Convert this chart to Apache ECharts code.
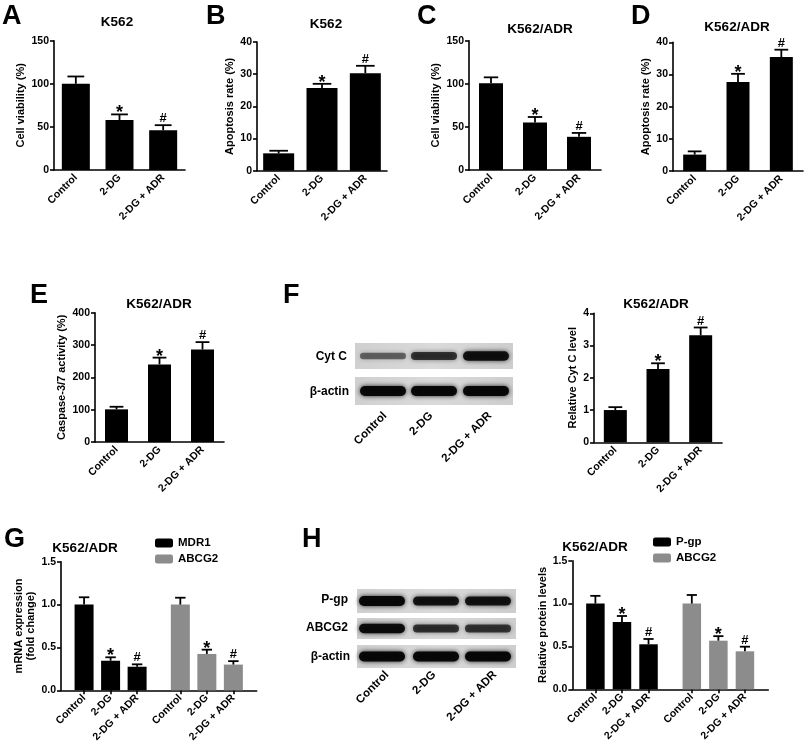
<!DOCTYPE html>
<html><head><meta charset="utf-8">
<script src="https://cdn.jsdelivr.net/npm/echarts@6/dist/echarts.min.js"></script>
<style>html,body{margin:0;padding:0;background:#fff}#c{width:805px;height:742px}</style>
</head><body><div id="c"></div>
<script>
// ---------------- DATA ----------------
const categories = ['Control', '2-DG', '2-DG + ADR'];
const marks = ['', '*', '#'];

// A: K562 cell viability (%)
const aTicks = [0, 50, 100, 150];
const aMean = [100, 58, 46];
const aErr = [8.5, 6.5, 6];
// B: K562 apoptosis rate (%)
const bTicks = [0, 10, 20, 30, 40];
const bMean = [5.4, 25.7, 30.3];
const bErr = [0.8, 1.3, 2.3];
// C: K562/ADR cell viability (%)
const cTicks = [0, 50, 100, 150];
const cMean = [100.5, 55, 38.5];
const cErr = [7, 6.5, 4.5];
// D: K562/ADR apoptosis rate (%)
const dTicks = [0, 10, 20, 30, 40];
const dMean = [5.1, 27.7, 35.4];
const dErr = [1.0, 2.5, 2.3];
// E: K562/ADR caspase-3/7 activity (%)
const eTicks = [0, 100, 200, 300, 400];
const eMean = [101, 240, 286];
const eErr = [8, 21, 23];
// F: relative Cyt C level
const fTicks = [0, 1, 2, 3, 4];
const fMean = [1.0, 2.27, 3.32];
const fErr = [0.09, 0.18, 0.24];
// G: mRNA expression (fold change)
const gTicks = [0, 0.5, 1.0, 1.5];
const gMdr1 = [1.0, 0.345, 0.275];
const gMdr1Err = [0.085, 0.04, 0.028];
const gAbcg2 = [1.0, 0.424, 0.30];
const gAbcg2Err = [0.08, 0.05, 0.04];
// H: relative protein levels
const hTicks = [0, 0.5, 1.0, 1.5];
const hPgp = [1.0, 0.785, 0.525];
const hPgpErr = [0.09, 0.07, 0.062];
const hAbcg2 = [1.0, 0.567, 0.443];
const hAbcg2Err = [0.1, 0.053, 0.054];

// Western blot band intensities (relative darkness per lane)
const fCytCBand = [0.5, 0.72, 0.9];
const fActinBand = [0.97, 0.97, 0.97];
const hPgpBand = [0.97, 0.88, 0.88];
const hAbcg2Band = [0.93, 0.72, 0.7];
const hActinBand = [0.97, 0.97, 0.97];

// ---------------- STYLE / LAYOUT ----------------
const FONT = '"Liberation Sans", Arial, Helvetica, sans-serif';
const BLACK = '#000000';
const GRAY = '#8c8c8c';
const AX = { onZero: false, lineStyle: { color: BLACK, width: 1.6 } };

const option = {
  animation: false,
  backgroundColor: '#ffffff',
  textStyle: { fontFamily: FONT },
  grid: [], xAxis: [], yAxis: [], series: [], legend: [], graphic: []
};

function yAxisCfg(gi, ticks, name, nameGap, dec) {
  return {
    gridIndex: gi, type: 'value',
    min: ticks[0], max: ticks[ticks.length - 1], interval: ticks[1] - ticks[0],
    name: name, nameLocation: 'middle', nameGap: nameGap,
    nameTextStyle: { fontSize: 11, fontWeight: 'bold', color: BLACK, fontFamily: FONT, align: 'center', lineHeight: 12.5 },
    axisLine: { show: true, onZero: false, lineStyle: AX.lineStyle },
    axisTick: { show: true, length: 4, lineStyle: AX.lineStyle },
    axisLabel: { fontSize: 10.5, fontWeight: 'bold', color: BLACK, fontFamily: FONT, margin: 5,
      formatter: v => Number(v).toFixed(dec) },
    splitLine: { show: false }
  };
}

function errSeries(gi, data, capW, markList) {
  return {
    type: 'custom', xAxisIndex: gi, yAxisIndex: gi, silent: true, z: 5,
    data: data,
    renderItem: function (params, api) {
      const x = api.value(0), m = api.value(1), e = api.value(2);
      const p0 = api.coord([x, m]);
      const p1 = api.coord([x, m + e]);
      const mk = markList[params.dataIndex];
      const children = [
        { type: 'line', shape: { x1: p0[0], y1: p0[1], x2: p1[0], y2: p1[1] }, style: { stroke: BLACK, lineWidth: 1.8 } },
        { type: 'line', shape: { x1: p1[0] - capW / 2, y1: p1[1], x2: p1[0] + capW / 2, y2: p1[1] }, style: { stroke: BLACK, lineWidth: 1.8 } }
      ];
      if (mk) {
        children.push({ type: 'text', x: p1[0], y: p1[1] + (mk === '*' ? 8 : 0),
          style: { text: mk, fill: BLACK, font: 'bold ' + (mk === '*' ? 18 : 13) + 'px ' + FONT, align: 'center', verticalAlign: 'bottom' } });
      }
      return { type: 'group', children: children };
    }
  };
}

function addSimple(box, ticks, yName, nameGap, means, errs, barW, dec) {
  const gi = option.grid.length;
  option.grid.push({ left: box[0], top: box[1], width: box[2], height: box[3], containLabel: false, outerBoundsMode: 'none' });
  option.xAxis.push({
    gridIndex: gi, type: 'category', data: categories,
    axisLine: AX, axisTick: { alignWithLabel: true, length: 4, lineStyle: AX.lineStyle },
    axisLabel: { rotate: 45, interval: 0, fontSize: 10.5, fontWeight: 'bold', color: BLACK, fontFamily: FONT, margin: 6 }
  });
  option.yAxis.push(yAxisCfg(gi, ticks, yName, nameGap, dec));
  option.series.push({ type: 'bar', xAxisIndex: gi, yAxisIndex: gi, data: means, barWidth: barW, silent: true,
    itemStyle: { color: BLACK } });
  option.series.push(errSeries(gi, means.map((m, i) => [i, m, errs[i]]), barW * 0.6, marks));
}

const GROUP_SHIFT = 3.63;
function addGrouped(box, ticks, yName, nameGap, groups, barW) {
  const gi = option.grid.length;
  option.grid.push({ left: box[0], top: box[1], width: box[2], height: box[3], containLabel: false, outerBoundsMode: 'none' });
  const pos = [], lab = [];
  groups.forEach((g, k) => categories.forEach((c, i) => { pos.push(i + k * GROUP_SHIFT); lab.push(c); }));
  option.xAxis.push({
    gridIndex: gi, type: 'value', min: -0.87, max: 6.51,
    axisLine: AX,
    axisTick: { show: true, length: 4, lineStyle: AX.lineStyle, customValues: pos },
    axisLabel: { rotate: 45, fontSize: 10.5, fontWeight: 'bold', color: BLACK, fontFamily: FONT, margin: 6,
      customValues: pos,
      formatter: v => { let best = 0; pos.forEach((p, j) => { if (Math.abs(p - v) < Math.abs(pos[best] - v)) best = j; }); return lab[best]; } },
    splitLine: { show: false }
  });
  option.yAxis.push(yAxisCfg(gi, ticks, yName, nameGap, 1));
  groups.forEach((g, k) => {
    option.series.push({ type: 'bar', name: g.name, xAxisIndex: gi, yAxisIndex: gi, barWidth: barW, barGap: '-100%', silent: true,
      itemStyle: { color: g.color },
      data: g.mean.map((m, i) => [i + k * GROUP_SHIFT, m]) });
    option.series.push(errSeries(gi, g.mean.map((m, i) => [i + k * GROUP_SHIFT, m, g.err[i]]), barW * 0.55, marks));
  });
}

addSimple([54, 40.7, 131, 129.3], aTicks, 'Cell viability (%)', 24, aMean, aErr, 28, 0);
addSimple([257, 42, 130, 128.7], bTicks, 'Apoptosis rate (%)', 13, bMean, bErr, 31, 0);
addSimple([469, 40.7, 132, 129.3], cTicks, 'Cell viability (%)', 21, cMean, cErr, 24, 0);
addSimple([673, 42.3, 130, 128.7], dTicks, 'Apoptosis rate (%)', 17, dMean, dErr, 23, 0);
addSimple([95, 312.7, 129, 129.3], eTicks, 'Caspase-3/7 activity (%)', 24, eMean, eErr, 23, 0);
addSimple([594, 313.3, 128, 129], fTicks, 'Relative Cyt C level', 12, fMean, fErr, 23, 0);
addGrouped([61, 561.7, 195.7, 128.6], gTicks, 'mRNA expression\n(fold change)', 18,
  [{ name: 'MDR1', color: BLACK, mean: gMdr1, err: gMdr1Err }, { name: 'ABCG2', color: GRAY, mean: gAbcg2, err: gAbcg2Err }], 19);
addGrouped([572.3, 560.7, 196, 128.6], hTicks, 'Relative protein levels', 19,
  [{ name: 'P-gp', color: BLACK, mean: hPgp, err: hPgpErr }, { name: 'ABCG2', color: GRAY, mean: hAbcg2, err: hAbcg2Err }], 18.5);

const legendBase = { orient: 'vertical', itemWidth: 18, itemHeight: 9, itemGap: 4, icon: 'roundRect', selectedMode: false,
  textStyle: { fontSize: 11.5, fontWeight: 'bold', color: BLACK, fontFamily: FONT } };
option.legend.push(Object.assign({}, legendBase, { left: 150, top: 532, data: ['MDR1', 'ABCG2'] }));
option.legend.push(Object.assign({}, legendBase, { left: 648, top: 531, data: ['P-gp', 'ABCG2'] }));

// ---------------- GRAPHICS: letters, titles, blots ----------------
function txt(x, y, s, size, align, vAlign, rot) {
  return { type: 'text', x: x, y: y, rotation: rot || 0, silent: true,
    style: { text: s, fill: BLACK, font: 'bold ' + size + 'px ' + FONT, align: align, verticalAlign: vAlign } };
}
const G = option.graphic;
[['A', 2, 3], ['B', 206, 3], ['C', 417, 3], ['D', 631, 3], ['E', 30, 282], ['F', 283, 282], ['G', 4, 526], ['H', 302, 526]]
  .forEach(l => G.push(txt(l[1], l[2], l[0], 27, 'left', 'top')));
[['K562', 117, 22], ['K562', 326, 24], ['K562/ADR', 540, 29], ['K562/ADR', 737, 27],
 ['K562/ADR', 159, 304], ['K562/ADR', 656, 304], ['K562/ADR', 85, 548], ['K562/ADR', 595, 547]]
  .forEach(t => G.push(txt(t[1], t[2], t[0], 13.5, 'center', 'middle')));

function blotRow(x, y, w, h, lanes, band) {
  const children = [{ type: 'rect', shape: { x: x, y: y, width: w, height: h },
    style: { fill: { type: 'linear', x: 0, y: 0, x2: 1, y2: 1, colorStops: [{ offset: 0, color: '#cfcfcf' }, { offset: 0.5, color: '#dadada' }, { offset: 1, color: '#cdcdcd' }] } } }];
  lanes.forEach((lx, i) => {
    const t = 3 + 7 * band[i];
    const a = band[i];
    children.push({ type: 'rect', shape: { x: lx - 23, y: y + h / 2 - t / 2, width: 46, height: t, r: t / 2 },
      style: { fill: 'rgba(5,5,5,' + a + ')', shadowBlur: 5, shadowColor: 'rgba(20,20,20,' + a + ')' } });
  });
  return { type: 'group', silent: true, children: children };
}
const fLanes = [383, 434, 486];
G.push(blotRow(355, 343, 158, 26, fLanes, fCytCBand));
G.push(blotRow(355, 377, 158, 28, fLanes, fActinBand));
G.push(txt(347, 357, 'Cyt C', 12, 'right', 'middle'));
G.push(txt(349, 392, 'β-actin', 12, 'right', 'middle'));
[[385, categories[0]], [431, categories[1]], [490, categories[2]]].forEach(p => G.push(txt(p[0], 414, p[1], 11.5, 'right', 'middle', Math.PI / 4)));

const hLanes = [382, 436, 488];
G.push(blotRow(357, 589, 159, 24, hLanes, hPgpBand));
G.push(blotRow(357, 618, 159, 21, hLanes, hAbcg2Band));
G.push(blotRow(357, 645, 159, 23, hLanes, hActinBand));
G.push(txt(348, 600, 'P-gp', 12, 'right', 'middle'));
G.push(txt(348, 628, 'ABCG2', 12, 'right', 'middle'));
G.push(txt(350, 657, 'β-actin', 12, 'right', 'middle'));
[[387, categories[0]], [434, categories[1]], [495, categories[2]]].forEach(p => G.push(txt(p[0], 673, p[1], 11.5, 'right', 'middle', Math.PI / 4)));

const chart = echarts.init(document.getElementById('c'), null, { renderer: 'canvas' });
chart.setOption(option);
</script></body></html>
